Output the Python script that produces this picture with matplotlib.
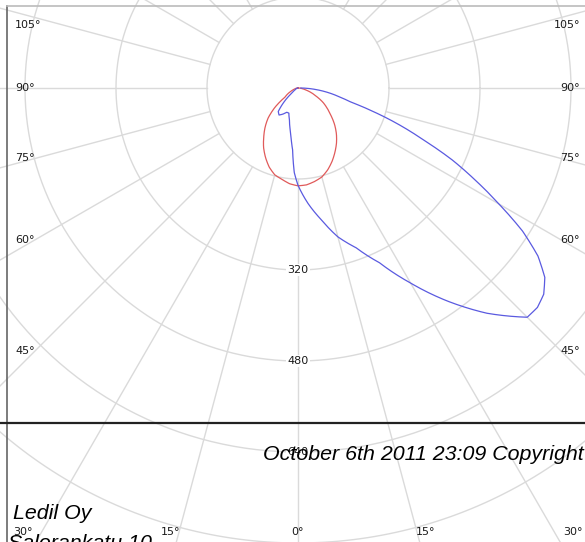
import numpy as np
import matplotlib
matplotlib.use('Agg')
import matplotlib.pyplot as plt
from matplotlib.lines import Line2D

# luminous intensity (cd) vs angle from nadir (deg), two C-planes
red_angle = [-90, -85, -80, -75, -70, -65, -60, -55, -50, -45, -40, -35, -30, -25, -20, -15, -10, -5, 0,
             5, 10, 15, 20, 25, 30, 35, 40, 45, 50, 55, 60, 65, 70, 75, 80, 85, 90]
red_cd = [0, 2, 4, 5, 9, 14, 21, 28, 53, 74, 90, 105, 121, 135, 148, 158, 163, 169, 172,
          171, 167, 162, 153, 142, 130, 118, 105, 91, 76, 63, 51, 37, 26, 16, 9, 4, 0]

blue_angle = [-90, -80, -70, -60, -55, -50, -45, -40, -35, -30, -25, -20, -15, -10, -7.5, -5, -2.5, 0,
              5, 10, 15, 20, 25, 30, 35, 40, 45, 47.5, 50, 52.5, 55, 57.5, 60, 62.5, 65, 67.5,
              70, 72.5, 75, 77.5, 80, 85, 90]
blue_cd = [0, 2, 3, 5, 9, 16, 35, 54, 58, 53, 47, 47, 58, 77, 91, 109, 149, 171,
           204, 235, 271, 299, 339, 396, 457, 517, 570, 571, 564, 547, 515, 468, 408, 352, 299, 239,
           190, 141, 97, 77, 62, 32, 5]

ring_values = [160, 320, 480, 640, 800]
ring_labels = ['320', '480', '640']
spoke_angles = list(range(0, 360, 15))
side_label_angles = [45, 60, 75, 90, 105]
bottom_label_angles = [0, 15, 30]

W, H = 585, 542
cx, cy = 298, 88          # centre in pixels
s = 160 / 91              # cd per pixel

fig = plt.figure(figsize=(W / 100, H / 100), dpi=100)
ax = fig.add_axes([0, 0, 1, 1])
ax.set_xlim(-cx * s, (W - cx) * s)
ax.set_ylim(-(H - cy) * s, cy * s)
ax.axis('off')

grid_col = '#dadada'
t = np.linspace(0, 2 * np.pi, 400)
for r in ring_values:
    ax.plot(r * np.cos(t), r * np.sin(t), color=grid_col, lw=1, zorder=1)
for a in spoke_angles:
    ar = np.radians(a)
    ax.plot([160 * np.sin(ar), 2000 * np.sin(ar)], [-160 * np.cos(ar), -2000 * np.cos(ar)],
            color=grid_col, lw=1, zorder=1)

lab_kw = dict(fontsize=8, color='#1a1a1a', family='DejaVu Sans', va='center', zorder=3)
for lab in ring_labels:
    ax.text(0, -float(lab), lab, ha='center',
            bbox=dict(facecolor='white', edgecolor='none', pad=1), **lab_kw)

for a in side_label_angles:
    ar = np.radians(a)
    y = -np.cos(ar) * 263 * s / np.sin(ar)
    y = min(y, 63 * s)
    ax.text(-283 * s, y, f'{a}°', ha='left', **lab_kw)
    ax.text(282 * s, y, f'{a}°', ha='right', **lab_kw)
for a in bottom_label_angles:
    x = np.tan(np.radians(a)) * 477 * s
    y = -444 * s
    ax.text(-x, y, f'{a}°', ha='center', **lab_kw)
    if a:
        ax.text(x, y, f'{a}°', ha='center', **lab_kw)


def polar_line(ang, cd, color):
    # draw in polar sense: intensity varies along the angle between samples
    fine = np.linspace(ang[0], ang[-1], 721)
    r = np.interp(fine, ang, cd)
    fr = np.radians(fine)
    ax.plot(r * np.sin(fr), -r * np.cos(fr), color=color, lw=0.9, zorder=4)


polar_line(red_angle, red_cd, '#e05a5a')
polar_line(blue_angle, blue_cd, '#5a5ae0')

# page frame and separator
fig.add_artist(Line2D([7 / W, 7 / W], [0, 1 - 6 / H], color='#666666', lw=1.2))
fig.add_artist(Line2D([7 / W, 1], [1 - 6 / H, 1 - 6 / H], color='#bbbbbb', lw=1.2))
fig.add_artist(Line2D([0, 1], [1 - 423 / H, 1 - 423 / H], color='#222222', lw=1.6))

txt_kw = dict(fontsize=15.4, style='italic', family='Liberation Sans', color='black', va='baseline')
fig.text(263 / W, 1 - 460 / H, 'October 6th 2011 23:09 Copyright', ha='left', **txt_kw)
fig.text(13 / W, 1 - 519 / H, 'Ledil Oy', ha='left', **txt_kw)
fig.text(8 / W, 1 - 549 / H, 'Salorankatu 10', ha='left', **txt_kw)

fig.savefig('out.png', dpi=100)
